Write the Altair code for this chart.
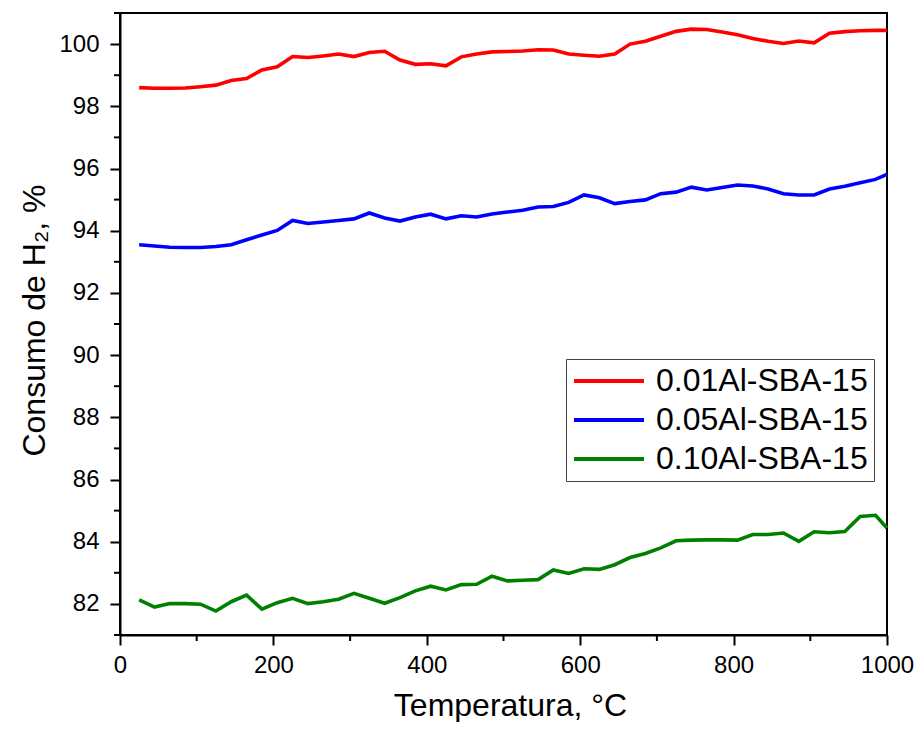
import altair as alt
import pandas as pd

# ---------------- data ----------------
temperature = [25, 45, 65, 85, 105, 125, 145, 165, 185, 205,
               225, 245, 265, 285, 305, 325, 345, 365, 385, 405,
               425, 445, 465, 485, 505, 525, 545, 565, 585, 605,
               625, 645, 665, 685, 705, 725, 745, 765, 785, 805,
               825, 845, 865, 885, 905, 925, 945, 965, 985, 1000]

s_001 = [98.60, 98.58, 98.58, 98.59, 98.63, 98.68, 98.83, 98.89, 99.17, 99.27,
         99.60, 99.57, 99.62, 99.68, 99.60, 99.73, 99.77, 99.49, 99.35, 99.37,
         99.30, 99.59, 99.68, 99.75, 99.76, 99.78, 99.82, 99.81, 99.68, 99.64,
         99.61, 99.68, 100.00, 100.09, 100.25, 100.41, 100.48, 100.47, 100.39, 100.30,
         100.18, 100.09, 100.02, 100.10, 100.04, 100.35, 100.40, 100.43, 100.44, 100.44]

s_005 = [93.55, 93.51, 93.47, 93.46, 93.46, 93.49, 93.55, 93.71, 93.86, 94.01,
         94.33, 94.23, 94.28, 94.33, 94.38, 94.57, 94.41, 94.31, 94.44, 94.53,
         94.38, 94.48, 94.44, 94.54, 94.60, 94.66, 94.76, 94.78, 94.91, 95.15,
         95.06, 94.87, 94.94, 94.99, 95.19, 95.24, 95.40, 95.31, 95.39, 95.47,
         95.44, 95.34, 95.19, 95.15, 95.15, 95.34, 95.43, 95.54, 95.65, 95.81]

s_010 = [82.13, 81.90, 82.01, 82.01, 81.99, 81.77, 82.07, 82.28, 81.83, 82.04,
         82.18, 82.01, 82.07, 82.15, 82.34, 82.18, 82.02, 82.20, 82.42, 82.57,
         82.45, 82.62, 82.63, 82.89, 82.74, 82.76, 82.78, 83.09, 82.98, 83.13,
         83.11, 83.26, 83.49, 83.62, 83.80, 84.03, 84.05, 84.06, 84.06, 84.05,
         84.23, 84.23, 84.28, 84.01, 84.32, 84.29, 84.33, 84.81, 84.85, 84.44]

series_names = ["0.01Al-SBA-15", "0.05Al-SBA-15", "0.10Al-SBA-15"]
series_colors = ["#ff0000", "#0000ff", "#008000"]

x_major = [0, 200, 400, 600, 800, 1000]
x_minor = [100, 300, 500, 700, 900]
y_major = [82, 84, 86, 88, 90, 92, 94, 96, 98, 100]
y_minor = [81, 83, 85, 87, 89, 91, 93, 95, 97, 99, 101]

rows = []
for name, vals in zip(series_names, [s_001, s_005, s_010]):
    for t, v in zip(temperature, vals):
        rows.append({"T": t, "H2": v, "serie": name})
df = pd.DataFrame(rows)

# ---------------- chart ----------------
W, H = 767, 622
FONT = "Liberation Sans"

xscale = alt.Scale(domain=[0, 1000], nice=False, zero=False)
yscale = alt.Scale(domain=[81, 101], nice=False, zero=False)

x_axis = alt.Axis(values=x_major, title="Temperatura, °C", format="d",
                  labelPadding=8, labelFlush=False, labelOverlap=False,
                  titleX=390, titleY=80, titleBaseline="alphabetic",
                  titleAlign="center")
y_axis = alt.Axis(values=y_major, title="Consumo de H₂, %", format="d",
                  labelPadding=11, labelFlush=False, labelOverlap=False,
                  titleX=-86, titleY=307, titleAngle=270,
                  titleBaseline="middle", titleAlign="center")

lines = alt.Chart(df).mark_line(strokeWidth=3.6).encode(
    x=alt.X("T:Q", scale=xscale, axis=x_axis),
    y=alt.Y("H2:Q", scale=yscale, axis=y_axis),
    color=alt.Color("serie:N",
                    scale=alt.Scale(domain=series_names, range=series_colors),
                    legend=alt.Legend(orient="none", legendX=446, legendY=346,
                                      title=None, symbolType="M-1,0H4",
                                      symbolSize=784, symbolStrokeWidth=4,
                                      labelFont=FONT, labelFontSize=32,
                                      labelColor="black", labelOffset=52,
                                      labelLimit=400, rowPadding=7, padding=6,
                                      strokeColor="#444444", fillColor="white")),
)

xminor = alt.Chart(pd.DataFrame({"T": x_minor})).mark_rule(
    color="black", strokeWidth=2).encode(
    x=alt.X("T:Q", scale=xscale, axis=x_axis),
    y=alt.value(H), y2=alt.value(H + 6))

yminor = alt.Chart(pd.DataFrame({"H2": y_minor})).mark_rule(
    color="black", strokeWidth=2).encode(
    y=alt.Y("H2:Q", scale=yscale, axis=y_axis),
    x=alt.value(0), x2=alt.value(-6))

chart = alt.layer(lines, xminor, yminor).properties(
    width=W, height=H,
    autosize=alt.AutoSizeParams(type="none"),
    padding={"left": 112, "top": 5, "right": 27, "bottom": 87},
    background="white",
).configure_view(
    stroke="black", strokeWidth=2
).configure_axis(
    domainColor="black", domainWidth=2, tickColor="black", tickWidth=2,
    tickSize=10, labelFont=FONT, labelFontSize=24, labelColor="black",
    titleFont=FONT, titleFontSize=32, titleFontWeight="normal",
    titleColor="black", grid=False,
)

chart.save("out.html", embed_options={"renderer": "svg", "actions": False})
